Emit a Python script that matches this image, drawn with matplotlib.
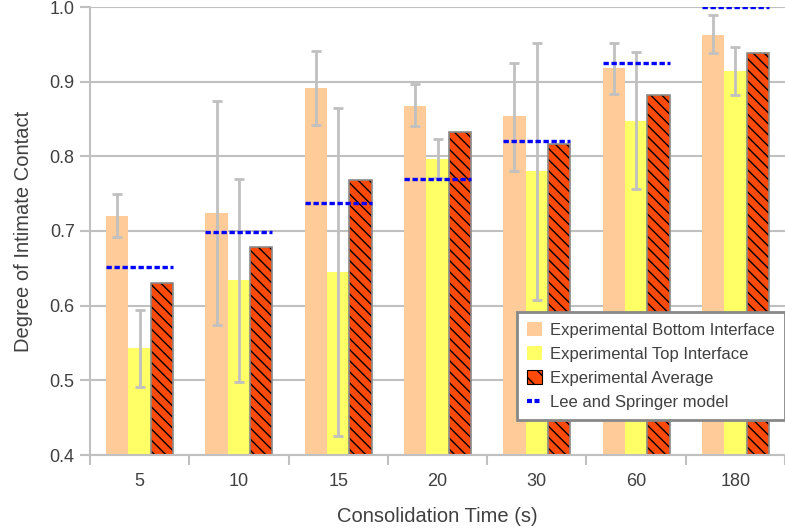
import matplotlib
matplotlib.use("Agg")
import matplotlib.pyplot as plt
from matplotlib.patches import Patch
from matplotlib.lines import Line2D
import numpy as np

plt.rcParams['font.family'] = ['Liberation Sans', 'DejaVu Sans']
plt.rcParams['hatch.linewidth'] = 1.0
plt.rcParams['hatch.color'] = 'black'

categories = ["5", "10", "15", "20", "30", "60", "180"]
bottom_vals = [0.720, 0.724, 0.891, 0.868, 0.854, 0.918, 0.963]
bottom_hi = [0.749, 0.874, 0.941, 0.897, 0.925, 0.952, 0.989]
bottom_lo = [0.692, 0.574, 0.842, 0.840, 0.781, 0.883, 0.939]
top_vals = [0.543, 0.634, 0.645, 0.796, 0.780, 0.847, 0.914]
top_hi = [0.594, 0.770, 0.865, 0.823, 0.952, 0.940, 0.946]
top_lo = [0.491, 0.498, 0.425, 0.771, 0.608, 0.756, 0.882]
avg_vals = [0.631, 0.679, 0.768, 0.833, 0.817, 0.882, 0.939]
model_vals = [0.652, 0.699, 0.737, 0.769, 0.821, 0.925, 1.000]

fig = plt.figure(figsize=(7.85, 5.29), dpi=100)
ax = fig.add_axes([90/785, 1 - 455/529, 695/785, 448/529])

x = np.arange(len(categories))
w = 0.225
gray = '#c0c0c0'
txt = '#404040'
orange = '#ff4a0a'
hatch = '\\\\\\'

ax.bar(x - w, bottom_vals, w, color='#ffcc99', zorder=2)
ax.bar(x, top_vals, w, color='#ffff66', zorder=2)
ax.bar(x + w, avg_vals, w, facecolor=orange, edgecolor='black',
       hatch=hatch, linewidth=0, zorder=2)
ax.bar(x + w, avg_vals, w, fill=False, edgecolor='#8a8a8a',
       linewidth=1.2, zorder=2.1)

bv = np.array(bottom_vals); tv = np.array(top_vals)
ax.errorbar(x - w, bv, yerr=[bv - np.array(bottom_lo), np.array(bottom_hi) - bv],
            fmt='none', ecolor=gray, elinewidth=2, capsize=3.5, capthick=2, zorder=3)
ax.errorbar(x, tv, yerr=[tv - np.array(top_lo), np.array(top_hi) - tv],
            fmt='none', ecolor=gray, elinewidth=2, capsize=3.5, capthick=2, zorder=3)

for i, m in enumerate(model_vals):
    ax.plot([x[i] - 1.5 * w, x[i] + 1.5 * w], [m, m], color='#0000ff',
            linestyle=(0, (1.6, 0.8)), linewidth=2.4, zorder=4,
            dash_capstyle='butt')

ax.set_xlim(-0.5, -0.5 + 695/101)
ax.set_ylim(0.4, 1.0)
ax.set_yticks([0.4, 0.5, 0.6, 0.7, 0.8, 0.9, 1.0])
ax.set_yticklabels(['0.4', '0.5', '0.6', '0.7', '0.8', '0.9', '1.0'])
ax.set_xticks(x)
ax.set_xticklabels(categories)
ax.set_xticks(np.arange(-0.5, 7.0, 1.0), minor=True)
ax.tick_params(axis='x', which='major', length=0, pad=13, labelsize=13, labelcolor=txt)
ax.tick_params(axis='x', which='minor', length=7, color=gray, width=1.5)
ax.tick_params(axis='y', length=7, color=gray, width=1.5, labelsize=13, labelcolor=txt, pad=4)

ax.grid(axis='y', color=gray, linewidth=1.5, zorder=0)
ax.set_axisbelow(True)
for s in ['top', 'right']:
    ax.spines[s].set_visible(False)
for s in ['left', 'bottom']:
    ax.spines[s].set_color(gray)
    ax.spines[s].set_linewidth(1.5)

ax.set_ylabel('Degree of Intimate Contact', fontsize=14.5, color=txt, labelpad=12)
ax.set_xlabel('Consolidation Time (s)', fontsize=14.5, color=txt, labelpad=12)

handles = [
    Patch(facecolor='#ffcc99', edgecolor='none', label='Experimental Bottom Interface'),
    Patch(facecolor='#ffff66', edgecolor='none', label='Experimental Top Interface'),
    Patch(facecolor=orange, edgecolor='black', hatch='\\\\', linewidth=0.8,
          label='Experimental Average'),
    Line2D([], [], color='#0000ff', linestyle=(0, (1.2, 0.6)), linewidth=3,
           dash_capstyle='butt', label='Lee and Springer model'),
]
leg = ax.legend(handles=handles, loc='lower right',
                bbox_to_anchor=(1.0, (455 - 420) / 448),
                frameon=True, fancybox=False, framealpha=1, fontsize=12,
                handlelength=0.9, handleheight=0.9, handletextpad=0.5,
                borderpad=0.6, labelspacing=0.5, borderaxespad=0)
leg.get_frame().set_edgecolor('#888888')
leg.get_frame().set_linewidth(2)
for t in leg.get_texts():
    t.set_color(txt)

fig.savefig('out.png', dpi=100)
